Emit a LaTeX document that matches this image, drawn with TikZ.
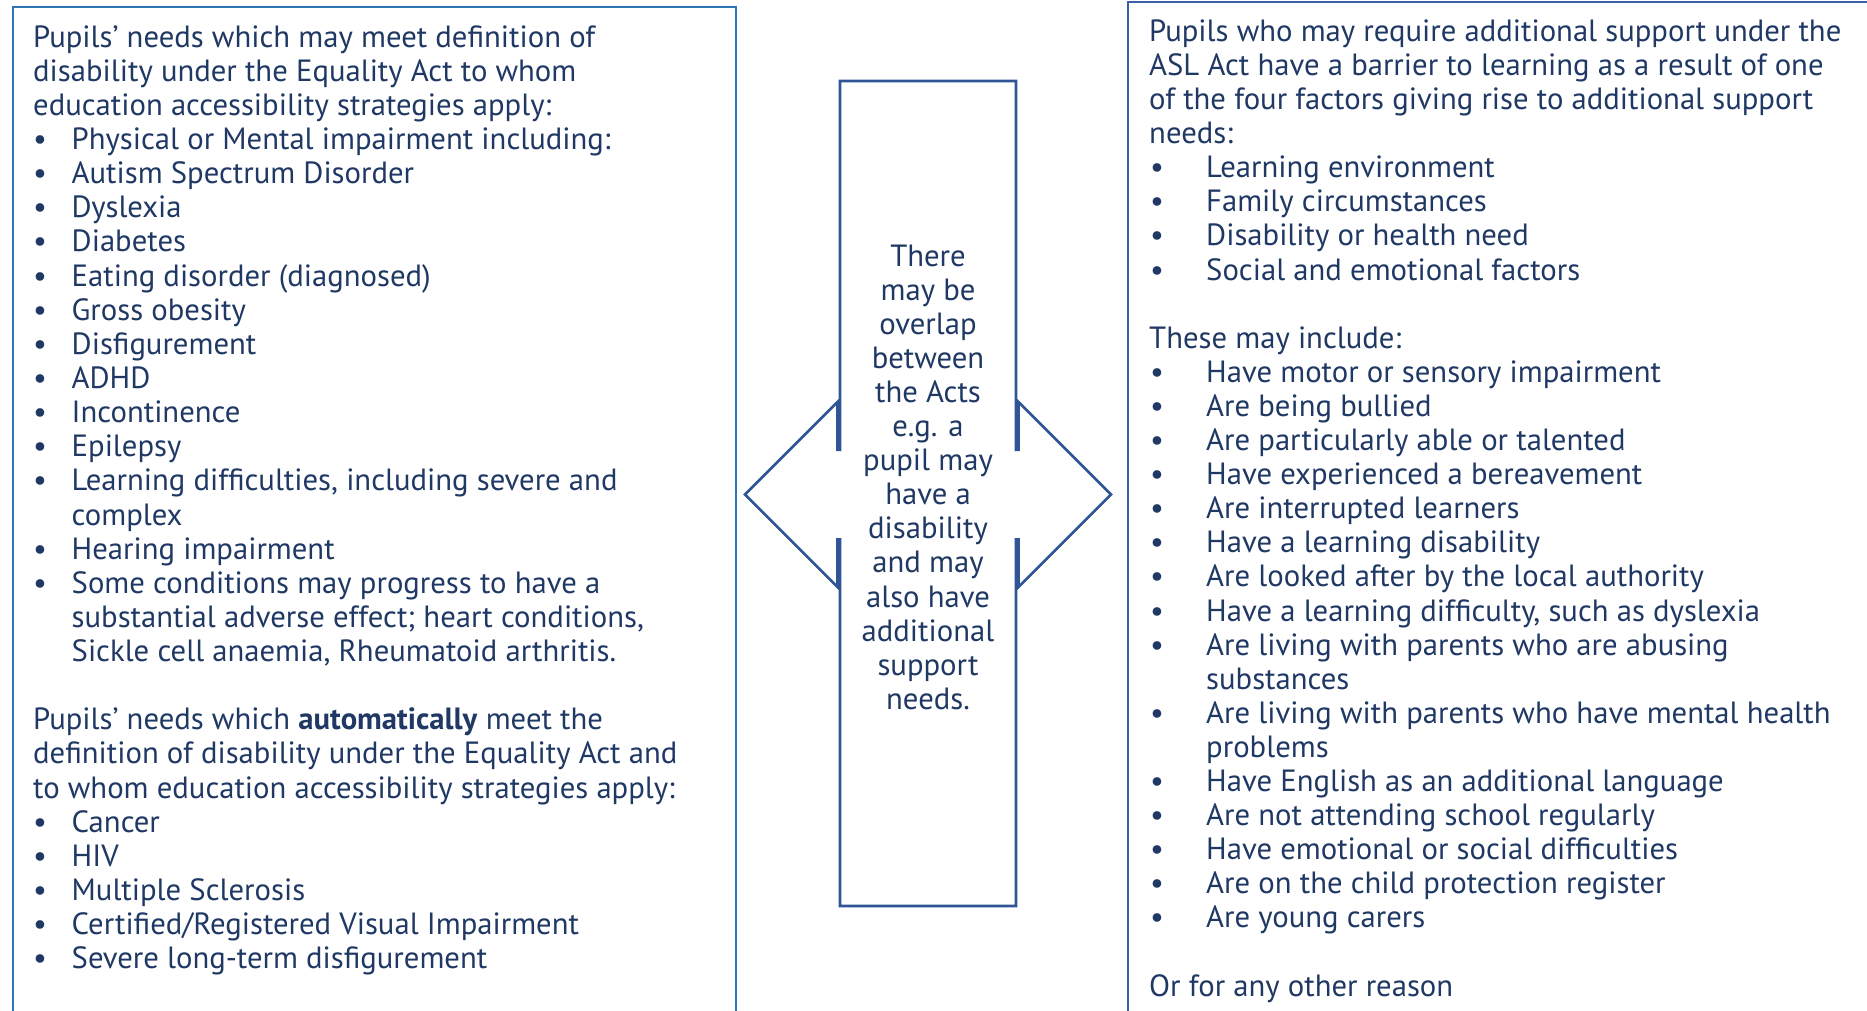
\documentclass[tikz,border=0pt]{standalone}
\usepackage{fontspec}
\setmainfont{PT Sans}
\definecolor{txt}{HTML}{1F3864}
\definecolor{lbox}{HTML}{2E75B6}
\definecolor{rbox}{HTML}{3B5FA6}
\definecolor{arr}{HTML}{2F5597}
\newcommand{\fs}{\fontsize{30.7}{34.1}\selectfont}
\tikzset{
  line/.style={anchor=base west, inner sep=0pt, text=txt, font=\fs},
  cline/.style={anchor=base, inner sep=0pt, text=txt, font=\fs},
  frame/.style={line width=2pt},
}
% left column
\newcommand{\Lp}[2]{\node[line] (L-#1) at (33,{47.2+#1*34.13}) {#2};}
\newcommand{\Lb}[2]{\node[line] (LB-#1) at (33,{47.2+#1*34.13}) {\textbullet};
  \node[line] (L-#1) at (71.5,{47.2+#1*34.13}) {#2};}
\newcommand{\Lc}[2]{\node[line] (L-#1) at (71.5,{47.2+#1*34.13}) {#2};}
% right column
\newcommand{\Rp}[2]{\node[line] (R-#1) at (1149,{41.3+#1*34.1}) {#2};}
\newcommand{\Rb}[2]{\node[line] (RB-#1) at (1150,{41.3+#1*34.1}) {\textbullet};
  \node[line] (R-#1) at (1206,{41.3+#1*34.1}) {#2};}
\newcommand{\Rc}[2]{\node[line] (R-#1) at (1206,{41.3+#1*34.1}) {#2};}
% centre
\newcommand{\Cl}[2]{\node[cline] (C-#1) at (928,{266.3+#1*34.07}) {#2};}
\begin{document}
\begin{tikzpicture}[x=1pt,y=-1pt]
\useasboundingbox (0,0) rectangle (1867,1011);
\clip (0,0) rectangle (1867,1011);
\fill[white] (0,0) rectangle (1867,1011);
% frames
\draw[frame, lbox] (13,1020) -- (13,7) -- (736,7) -- (736,1020);
\draw[frame, rbox] (1128,1020) -- (1128,2) -- (1880,2);
\draw[arr, line width=2.6pt, line join=miter]
  (840,81) -- (1016,81) -- (1016,449.7) -- (1018.5,449.7) -- (1018.5,402)
  -- (1111,494.5) -- (1018.5,587) -- (1018.5,539.3) -- (1016,539.3)
  -- (1016,906) -- (840,906) -- (840,539.3) -- (837.5,539.3) -- (837.5,587)
  -- (745,494.5) -- (837.5,402) -- (837.5,449.7) -- (840,449.7) -- cycle;
% left text
\Lp{0}{Pupils’ needs which may meet definition of}
\Lp{1}{disability under the Equality Act to whom}
\Lp{2}{education accessibility strategies apply:}
\Lb{3}{Physical or Mental impairment including:}
\Lb{4}{Autism Spectrum Disorder}
\Lb{5}{Dyslexia}
\Lb{6}{Diabetes}
\Lb{7}{Eating disorder (diagnosed)}
\Lb{8}{Gross obesity}
\Lb{9}{Disfigurement}
\Lb{10}{ADHD}
\Lb{11}{Incontinence}
\Lb{12}{Epilepsy}
\Lb{13}{Learning difficulties, including severe and}
\Lc{14}{complex}
\Lb{15}{Hearing impairment}
\Lb{16}{Some conditions may progress to have a}
\Lc{17}{substantial adverse effect; heart conditions,}
\Lc{18}{Sickle cell anaemia, Rheumatoid arthritis.}
\Lp{20}{Pupils’ needs which \textbf{automatically} meet the}
\Lp{21}{definition of disability under the Equality Act and}
\Lp{22}{to whom education accessibility strategies apply:}
\Lb{23}{Cancer}
\Lb{24}{HIV}
\Lb{25}{Multiple Sclerosis}
\Lb{26}{Certified/Registered Visual Impairment}
\Lb{27}{Severe long-term disfigurement}
% right text
\Rp{0}{Pupils who may require additional support under the}
\Rp{1}{ASL Act have a barrier to learning as a result of one}
\Rp{2}{of the four factors giving rise to additional support}
\Rp{3}{needs:}
\Rb{4}{Learning environment}
\Rb{5}{Family circumstances}
\Rb{6}{Disability or health need}
\Rb{7}{Social and emotional factors}
\Rp{9}{These may include:}
\Rb{10}{Have motor or sensory impairment}
\Rb{11}{Are being bullied}
\Rb{12}{Are particularly able or talented}
\Rb{13}{Have experienced a bereavement}
\Rb{14}{Are interrupted learners}
\Rb{15}{Have a learning disability}
\Rb{16}{Are looked after by the local authority}
\Rb{17}{Have a learning difficulty, such as dyslexia}
\Rb{18}{Are living with parents who are abusing}
\Rc{19}{substances}
\Rb{20}{Are living with parents who have mental health}
\Rc{21}{problems}
\Rb{22}{Have English as an additional language}
\Rb{23}{Are not attending school regularly}
\Rb{24}{Have emotional or social difficulties}
\Rb{25}{Are on the child protection register}
\Rb{26}{Are young carers}
\Rp{28}{Or for any other reason}
% centre text
\Cl{0}{There}
\Cl{1}{may be}
\Cl{2}{overlap}
\Cl{3}{between}
\Cl{4}{the Acts}
\Cl{5}{e.g. a}
\Cl{6}{pupil may}
\Cl{7}{have a}
\Cl{8}{disability}
\Cl{9}{and may}
\Cl{10}{also have}
\Cl{11}{additional}
\Cl{12}{support}
\Cl{13}{needs.}
\end{tikzpicture}
\end{document}
